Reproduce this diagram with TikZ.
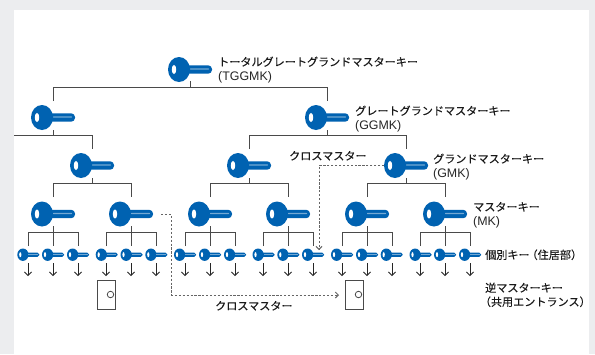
\documentclass[tikz,border=0pt]{standalone}
\usepackage{fontspec}
\setmainfont[FakeBold=0.15]{Noto Sans CJK JP}
\newfontfamily\latinlab{Liberation Sans}
\usetikzlibrary{arrows.meta}
\definecolor{keyblue}{HTML}{0062B1}
\definecolor{panel}{HTML}{ECEDEF}
\definecolor{linegray}{HTML}{4A4A4A}
\tikzset{
  x=1pt,y=-1pt,
  pics/bigkey/.style={code={
    \fill[keyblue] (11,0) ellipse [x radius=11,y radius=12.5];
    \fill[keyblue,rounded corners=3.8] (15,-4.2) rectangle (44,4.2);
    \fill[white!45!keyblue,rounded corners=0.6] (22,-1.2) rectangle (41,0.2);
    \fill[white] (6,0) ellipse [x radius=2.2,y radius=4.6];
  }},
  pics/smallkey/.style={code={
    \fill[keyblue] (5.6,0) ellipse [x radius=5.6,y radius=6.2];
    \fill[keyblue,rounded corners=1.9] (8,-2.2) rectangle (22,2.2);
    \fill[white!45!keyblue] (11,-0.6) rectangle (20.5,0.1);
    \fill[white] (3,0) ellipse [x radius=1.1,y radius=2.5];
  }},
  tree/.style={draw=linegray,line width=0.75pt},
  cross/.style={draw=linegray!85,line width=1pt,dash pattern=on 2.2pt off 1.7pt},
  downarrow/.style={draw=black!85,line width=0.75pt,-{Straight Barb[length=3.5pt,width=7pt]}},
  door/.style={draw=linegray,line width=0.8pt,fill=white},
  lock/.style={draw=linegray,line width=0.8pt,circle,minimum size=6.5pt,inner sep=0pt},
  lab/.style={anchor=base west,inner sep=0pt,font=\fontsize{11.1}{13}\selectfont,text=black!90},
  latin/.style={anchor=base west,inner sep=0pt,font=\latinlab\fontsize{12.4}{14}\selectfont,text=black!85},
}
\begin{document}
\begin{tikzpicture}
\useasboundingbox (0,0) rectangle (595,354);
\fill[panel] (0,0) rectangle (595,354);
\fill[white] (14,10) rectangle (589,354);
% anchors of tree
\foreach \n/\x/\y in {tg/190/87.3,ga/53/135.3,gb/327/135.3,ma/92/183.7,mb/249/183.7,mc/406/183.7,
  ka/53/232,kb/131/232,kc/210/232,kd/288/232,ke/367/232,kf/445/232}
  \coordinate (\n) at (\x,\y);
% tree level 1
\draw[tree] (190,81) -- (tg);
\draw[tree] (53,101) |- (327,87.3) -- (327,101);
% level 2
\draw[tree] (53,130) -- (ga);
\draw[tree] (14,135.3) -- (92,135.3) -- (92,149);
\draw[tree] (327,130) -- (gb);
\draw[tree] (249,149) |- (406,135.3) -- (406,149);
% level 3
\foreach \c in {92,249,406}{
  \draw[tree] (\c,178) -- (\c,183.7);
  \draw[tree] (\c-39,197) |- (\c+39,183.7) -- (\c+39,197);
}
% level 4
\foreach \c/\nm in {53/ka,131/kb,210/kc,288/kd,367/ke,445/kf}{
  \draw[tree] (\c,226) -- (\c,246);
  \draw[tree] (\c-25,246) |- (\c+25,232) -- (\c+25,246);
  \foreach \d in {-25,0,25}
    \draw[downarrow] (\c+\d,263) -- (\c+\d,276);
}
% keys
\pic at (168,69.5) {bigkey};
\pic at (31,117.5) {bigkey};
\pic at (305,117.5) {bigkey};
\foreach \x in {70,227,384} \pic at (\x,165.5) {bigkey};
\foreach \x in {31,109,188,266,345,423} \pic at (\x,214) {bigkey};
\foreach \x in {17.3,42,67,95.7,120.5,145.3,174,199,224,252.5,277.3,302,331,356,380.7,409.5,434,459}
  \pic at (\x,254.7) {smallkey};
% doors
\node[door,minimum width=18pt,minimum height=29pt,inner sep=0pt] (d1) at (106.5,294.5) {};
\node[lock] (l1) at (110.5,294.5) {};
\node[door,minimum width=18pt,minimum height=29pt,inner sep=0pt] (d2) at (354.5,294.5) {};
\node[lock] (l2) at (358.5,294.5) {};
% cross master lines
\coordinate (c1) at (161,214.5);
\coordinate (c2) at (384,165.5);
\draw[cross] (c1) -- (171,214.5) -- (171,295);
\draw[cross,-{Straight Barb[length=3pt,width=6pt]}] (171,295) -- (339,295);
\draw[cross,-{Straight Barb[length=3pt,width=6pt]}] (c2) -- (319,165.5) -- (319,250);
% labels
\node[lab] (t1) at (218,66) {トータルグレートグランドマスターキー};
\node[latin] (t1b) at (218,80.5) {(TGGMK)};
\node[lab] (t2) at (355,115) {グレートグランドマスターキー};
\node[latin] (t2b) at (355,129.5) {(GGMK)};
\node[lab] (t3) at (433,163) {グランドマスターキー};
\node[latin] (t3b) at (433,177.5) {(GMK)};
\node[lab] (t4) at (473,211) {マスターキー};
\node[latin] (t4b) at (473,225.5) {(MK)};
\node[lab] (t5) at (485,259) {個別キー\hspace{-3pt}（住居部）};
\node[lab] (t6) at (485,292) {逆マスターキー};
\node[lab] (t6b) at (485,306) {\hspace*{-5.3pt}（共用エントランス）};
\node[lab] (x1) at (289,160) {クロスマスター};
\node[lab] (x2) at (215,310) {クロスマスター};
\end{tikzpicture}
\end{document}
